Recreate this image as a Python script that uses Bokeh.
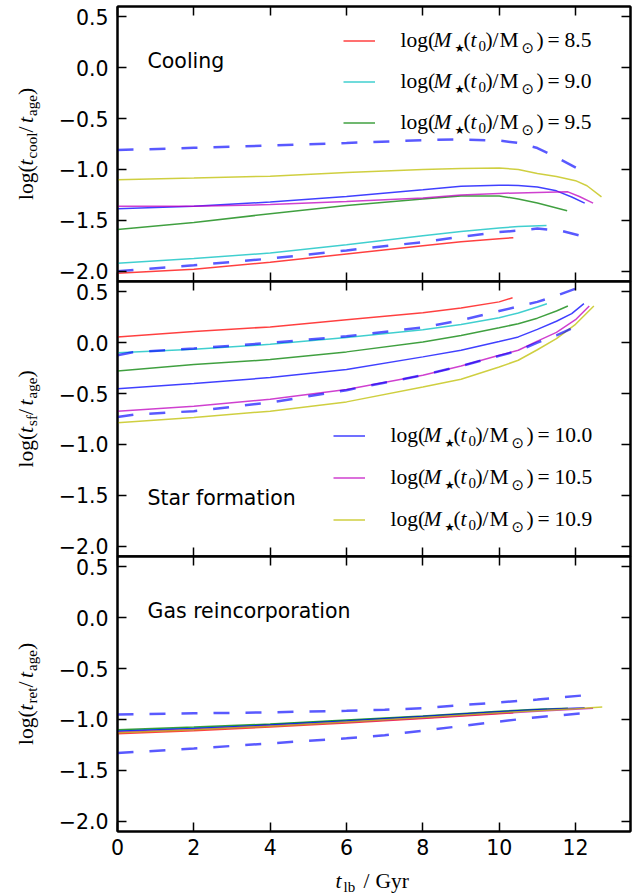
from math import pi

from bokeh.core.properties import value
from bokeh.embed import file_html
from bokeh.layouts import column, row
from bokeh.models import (CustomJSTickFormatter, FixedTicker, Label, Legend,
                          LegendItem, LinearAxis, Range1d)
from bokeh.plotting import figure
from bokeh.resources import INLINE

# ---------------------------------------------------------------------------
# Data: lookback time t_lb [Gyr] and log10 of timescale / age of the Universe
# ---------------------------------------------------------------------------
mass_bins = ["8.5", "9.0", "9.5", "10.0", "10.5", "10.9"]
line_colors = ["#ff0000", "#00bfbf", "#008000", "#0000ff", "#bf00bf", "#bfbf00"]

x_ticks = [0, 2, 4, 6, 8, 10, 12]
y_ticks = [-2.0, -1.5, -1.0, -0.5, 0.0, 0.5]

# cooling
t_cool_85 = [0, 2, 4, 6, 8, 9, 10, 10.37]
cool_85 = [-2.02, -1.98, -1.91, -1.83, -1.75, -1.71, -1.68, -1.67]
t_cool_90 = [0, 2, 4, 6, 8, 9, 10, 10.5, 11.24]
cool_90 = [-1.92, -1.875, -1.82, -1.74, -1.65, -1.61, -1.575, -1.56, -1.55]
t_cool_95 = [0, 2, 4, 6, 8, 9, 10, 10.5, 11, 11.78]
cool_95 = [-1.59, -1.52, -1.435, -1.355, -1.29, -1.26, -1.26, -1.29, -1.33, -1.405]
t_cool_100 = [0, 2, 4, 6, 8, 9, 10, 10.5, 11, 11.5, 11.9, 12.24]
cool_100 = [-1.385, -1.36, -1.32, -1.265, -1.2, -1.165, -1.155, -1.157, -1.173, -1.21, -1.27, -1.33]
t_cool_105 = [0, 2, 4, 6, 8, 9, 10, 11, 11.8, 12.1, 12.46]
cool_105 = [-1.36, -1.36, -1.345, -1.315, -1.28, -1.25, -1.235, -1.225, -1.22, -1.265, -1.33]
t_cool_109 = [0, 2, 4, 6, 8, 9, 10, 10.5, 11, 11.5, 12, 12.3, 12.68]
cool_109 = [-1.10, -1.085, -1.066, -1.03, -1.0, -0.99, -0.985, -1.0, -1.04, -1.07, -1.11, -1.16, -1.27]
t_cool_hi = [0, 2, 4, 6, 8, 9, 10, 10.5, 11, 11.5, 12.05]
cool_hi = [-0.81, -0.787, -0.765, -0.74, -0.712, -0.705, -0.716, -0.74, -0.79, -0.88, -0.99]
t_cool_lo = [0, 2, 4, 6, 8, 9, 10, 10.5, 11, 11.6, 12.13]
cool_lo = [-2.0, -1.94, -1.875, -1.795, -1.713, -1.66, -1.615, -1.6, -1.58, -1.6, -1.65]

# star formation
t_sf_85 = [0, 2, 4, 6, 8, 9, 10, 10.35]
sf_85 = [0.056, 0.11, 0.154, 0.225, 0.294, 0.34, 0.40, 0.44]
t_sf_90 = [0, 2, 4, 6, 8, 9, 10, 10.5, 11, 11.25]
sf_90 = [-0.10, -0.065, -0.017, 0.049, 0.127, 0.178, 0.245, 0.29, 0.35, 0.382]
t_sf_95 = [0, 2, 4, 6, 8, 9, 10, 10.5, 11, 11.5, 11.8]
sf_95 = [-0.278, -0.216, -0.167, -0.091, 0.007, 0.07, 0.146, 0.186, 0.24, 0.31, 0.36]
t_sf_100 = [0, 2, 4, 6, 8, 9, 10, 10.5, 11, 11.5, 11.9, 12.22]
sf_100 = [-0.454, -0.402, -0.343, -0.265, -0.14, -0.075, 0.01, 0.056, 0.13, 0.21, 0.284, 0.382]
t_sf_105 = [0, 2, 4, 6, 8, 9, 10, 10.5, 11, 11.5, 12, 12.36]
sf_105 = [-0.673, -0.624, -0.556, -0.46, -0.32, -0.23, -0.125, -0.075, 0.015, 0.10, 0.225, 0.36]
t_sf_109 = [0, 2, 4, 6, 8, 9, 10, 10.5, 11, 11.5, 12, 12.48]
sf_109 = [-0.787, -0.735, -0.673, -0.582, -0.435, -0.36, -0.24, -0.173, -0.07, 0.04, 0.18, 0.36]
t_sf_hi = [0, 0.4, 2, 4, 6, 8, 9, 10, 11, 11.5, 12.0]
sf_hi = [-0.125, -0.095, -0.058, -0.003, 0.062, 0.15, 0.22, 0.31, 0.40, 0.46, 0.53]
t_sf_lo = [0, 0.5, 2, 4, 6, 8, 9, 10, 10.5, 11, 11.5, 11.9]
sf_lo = [-0.73, -0.705, -0.673, -0.588, -0.467, -0.32, -0.23, -0.13, -0.08, 0.0, 0.07, 0.14]

# gas reincorporation
t_ret_85 = [0, 2, 4, 6, 8, 10, 10.37]
ret_85 = [-1.14, -1.11, -1.075, -1.035, -0.99, -0.945, -0.935]
t_ret_90 = [0, 2, 4, 6, 8, 10, 11.25]
ret_90 = [-1.11, -1.083, -1.05, -1.01, -0.97, -0.925, -0.90]
t_ret_95 = [0, 2, 4, 6, 8, 10, 11, 11.8]
ret_95 = [-1.10, -1.075, -1.045, -1.005, -0.965, -0.92, -0.90, -0.89]
t_ret_100 = [0, 2, 4, 6, 8, 10, 11, 12.24]
ret_100 = [-1.115, -1.088, -1.055, -1.015, -0.97, -0.925, -0.905, -0.885]
t_ret_105 = [0, 2, 4, 6, 8, 10, 11, 12, 12.46]
ret_105 = [-1.125, -1.098, -1.065, -1.027, -0.985, -0.94, -0.92, -0.90, -0.89]
t_ret_109 = [0, 2, 4, 6, 8, 10, 11, 12, 12.7]
ret_109 = [-1.13, -1.10, -1.066, -1.025, -0.98, -0.935, -0.915, -0.895, -0.877]
t_ret_hi = [0, 2, 4, 6, 7, 8, 9, 10, 11, 12.17]
ret_hi = [-0.951, -0.94, -0.93, -0.915, -0.905, -0.89, -0.86, -0.832, -0.805, -0.765]
t_ret_lo = [0, 2, 4, 6, 7, 8, 9, 10, 11, 12.17]
ret_lo = [-1.33, -1.285, -1.235, -1.185, -1.155, -1.11, -1.065, -1.02, -0.978, -0.94]

panels = [
    {"name": "cool", "title": "Cooling",
     "solid": [(t_cool_85, cool_85), (t_cool_90, cool_90), (t_cool_95, cool_95),
               (t_cool_100, cool_100), (t_cool_105, cool_105), (t_cool_109, cool_109)],
     "dashed": [(t_cool_hi, cool_hi), (t_cool_lo, cool_lo)]},
    {"name": "sf", "title": "Star formation",
     "solid": [(t_sf_85, sf_85), (t_sf_90, sf_90), (t_sf_95, sf_95),
               (t_sf_100, sf_100), (t_sf_105, sf_105), (t_sf_109, sf_109)],
     "dashed": [(t_sf_hi, sf_hi), (t_sf_lo, sf_lo)]},
    {"name": "ret", "title": "Gas reincorporation",
     "solid": [(t_ret_85, ret_85), (t_ret_90, ret_90), (t_ret_95, ret_95),
               (t_ret_100, ret_100), (t_ret_105, ret_105), (t_ret_109, ret_109)],
     "dashed": [(t_ret_hi, ret_hi), (t_ret_lo, ret_lo)]},
]

# ---------------------------------------------------------------------------
# Layout / style
# ---------------------------------------------------------------------------
X_MIN, X_MAX = 0.0, 13.44
Y_MIN, Y_MAX = -2.1, 0.6
FRAME_W, FRAME_H = 513, 275
FRAME_LEFT = 117          # page x of the plotting frames
RIGHT_PAD = 5
PAGE_W = FRAME_LEFT + FRAME_W + RIGHT_PAD
PAGE_H = 896
TOP_PAD = 6               # above the top frame
JOIN_PAD = 12             # border kept under/over joined frames (overlapped away)
TICK_PAD = 50             # border under the bottom frame (tick labels)
SANS = "DejaVu Sans"
SERIF = "Liberation Serif"
TICK_SIZE = "20.5px"
MATH = 21.5
BASE_FIX = 0.36           # lift (in em) so that a label's y is its glyph baseline

# math-style text is set piece by piece: roman, italic, subscripts and symbols
STYLES = {
    # kind: (font, style, size px, baseline shift px)
    "rm": (SERIF, "normal", MATH, 0.0),
    "it": (SERIF, "italic", MATH, 0.0),
    "sub": (SERIF, "normal", 15.0, -3.5),
    "star": (SANS, "normal", 11.5, -5.0),
    "odot": (SANS, "normal", 15.0, -5.5),
}
# advance widths (em) for the vertical titles
ROMAN_W = {"l": .278, "o": .5, "g": .5, "(": .333, ")": .333, "/": .45, ".": .25,
           "c": .444, "a": .444, "e": .444, "r": .333, "s": .389, "f": .333, "t": .278}
ITALIC_W = {"t": .278}


def piece_width(text, kind):
    size = STYLES[kind][2]
    table = ITALIC_W if kind == "it" else ROMAN_W
    return sum(table.get(ch, .5) for ch in text) * size


def text_label(p, text, x, y, font, size, style="normal", angle=0.0):
    """Label whose (x, y) is the start of its baseline, in frame pixels."""
    lift = BASE_FIX * size
    if angle == 0.0:
        y = y + lift
    else:
        x = x - lift
    p.add_layout(Label(x=x, y=y, x_units="screen", y_units="screen", text=text,
                       angle=angle, text_font=font, text_font_style=style,
                       text_font_size=f"{size:.1f}px", text_align="left",
                       text_baseline="alphabetic", text_color="black"))


def add_piece(p, text, kind, x, y, angle=0.0):
    font, style, size, shift = STYLES[kind]
    if angle == 0.0:
        y = y + shift
    else:
        x = x - shift
    text_label(p, text, x, y, font, size, style, angle)


def legend_pieces(mass):
    # (text, kind, offset from start of the entry in px)
    return [("log(", "rm", 0), ("M", "it", 33), ("\u2605", "star", 54), ("(", "rm", 63),
            ("t", "it", 70), ("0", "sub", 78), (")", "rm", 85), ("/", "rm", 92),
            ("M", "rm", 99), ("\u2299", "odot", 121), (")", "rm", 136),
            ("=", "rm", 147), (mass, "rm", 164)]


def ylabel_pieces(sub):
    return [("log(", "rm", 0), ("t", "it", 1), (sub, "sub", 0), ("/", "rm", 0),
            ("t", "it", 1), ("age", "sub", 0), (")", "rm", 0)]


y_fmt = "return tick.toFixed(1).replace('-', '\u2212');"
x_fmt = "return tick.toFixed(0);"
blank_fmt = "return '';"


def add_axis(p, side, ticks, labelled, fmt):
    ax = LinearAxis(ticker=FixedTicker(ticks=ticks),
                    formatter=CustomJSTickFormatter(code=fmt if labelled else blank_fmt))
    ax.major_tick_in = 9
    ax.major_tick_out = 0
    ax.minor_tick_line_color = None
    ax.major_tick_line_color = "black"
    ax.major_tick_line_width = 1.5
    ax.axis_line_color = "black"
    ax.axis_line_width = 2
    ax.axis_label_standoff = 0
    ax.major_label_text_font = SANS
    ax.major_label_text_color = "black"
    ax.major_label_text_font_size = TICK_SIZE if labelled else "0px"
    ax.major_label_standoff = (7 if side == "below" else 9) if labelled else 0
    p.add_layout(ax, side)


# full-page backdrop carrying the axis titles; the three panels are laid over it
backdrop = figure(frame_width=PAGE_W, frame_height=PAGE_H, x_range=Range1d(0, 1),
                  y_range=Range1d(0, 1), x_axis_location=None, y_axis_location=None,
                  min_border=0, title=None, output_backend="svg", toolbar_location=None)
backdrop.grid.visible = False
backdrop.outline_line_color = None
backdrop.border_fill_color = "white"
backdrop.background_fill_color = "white"

figs = []
n = len(panels)
for i, panel in enumerate(panels):
    first, last = i == 0, i == n - 1
    top = TOP_PAD if first else JOIN_PAD
    bottom = TICK_PAD if last else JOIN_PAD
    # joined frames: pull neighbouring canvases over each other's spare border
    margin = (0 if first else -JOIN_PAD, 0, -TICK_PAD if last else -JOIN_PAD, 0)
    p = figure(frame_width=FRAME_W, frame_height=FRAME_H,
               x_range=Range1d(X_MIN, X_MAX), y_range=Range1d(Y_MIN, Y_MAX),
               x_axis_location=None, y_axis_location=None, title=None,
               min_border_left=FRAME_LEFT, min_border_right=RIGHT_PAD,
               min_border_top=top, min_border_bottom=bottom, margin=margin,
               output_backend="svg", toolbar_location=None)
    p.grid.visible = False
    p.outline_line_color = "black"
    p.outline_line_width = 2
    p.background_fill_color = "white"
    p.border_fill_alpha = 0

    add_axis(p, "below", x_ticks, last, x_fmt)
    add_axis(p, "above", x_ticks, False, x_fmt)
    add_axis(p, "left", y_ticks, True, y_fmt)
    add_axis(p, "right", y_ticks, False, y_fmt)

    solid = []
    for (tx, ty), col in zip(panel["solid"], line_colors):
        solid.append(p.line(tx, ty, line_color=col, line_width=1.5, line_alpha=0.75))
    for tx, ty in panel["dashed"]:
        p.line(tx, ty, line_color="#0000ff", line_width=2.5, line_alpha=0.65,
               line_dash="16 16")

    # panel name
    text_label(p, panel["title"], 30, 51 if panel["name"] == "sf" else 212.7, SANS, 20.5)

    # vertical axis title, centred on this panel, drawn on the backdrop
    pcs = ylabel_pieces(panel["name"])
    total = sum(piece_width(t, k) + e for t, k, e in pcs)
    centre = PAGE_H - (TOP_PAD + FRAME_H * i + FRAME_H / 2)
    pos = centre - total / 2
    for t, k, e in pcs:
        add_piece(backdrop, t, k, 33, pos, angle=pi / 2)
        pos += piece_width(t, k) + e

    # mass-bin key: first three bins in the top panel, last three in the middle one
    if i < 2:
        idx = [0, 1, 2] if i == 0 else [3, 4, 5]
        spacing = 20 if i == 0 else 21
        loc = (226, 148) if i == 0 else (216, 26)
        items = [LegendItem(label=value(" "), renderers=[solid[k]]) for k in idx]
        p.add_layout(Legend(items=items, location=loc, glyph_width=32, glyph_height=21,
                            label_height=21, label_width=0, label_standoff=0,
                            label_text_font_size="1px", spacing=spacing, padding=0,
                            margin=0, border_line_alpha=0, background_fill_alpha=0))
        tx0 = 283 if i == 0 else 273
        base = [234, 193, 152] if i == 0 else [114, 72, 30]
        for k, yb in zip(idx, base):
            for t, kind, off in legend_pieces(mass_bins[k]):
                add_piece(p, t, kind, tx0 + off, yb)
    figs.append(p)

# horizontal axis title below the bottom panel, on the backdrop
for t, k, off in [("t", "it", 0), ("lb", "sub", 8), ("/", "rm", 28), ("Gyr", "rm", 40)]:
    add_piece(backdrop, t, k, 335 + off, 8)

panels_col = column(*figs, margin=(0, 0, 0, -PAGE_W))
layout = row(backdrop, panels_col)
open("out.html", "w").write(file_html(layout, INLINE))
